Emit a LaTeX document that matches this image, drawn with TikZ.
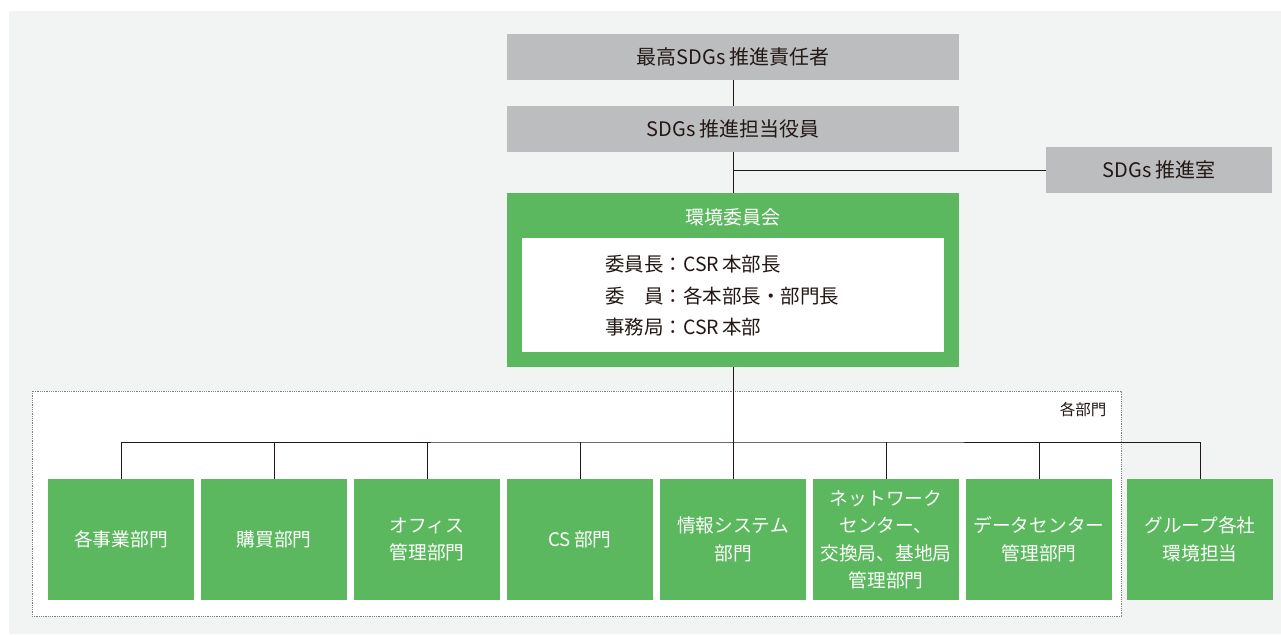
\documentclass[tikz,border=0pt]{standalone}
\usepackage{fontspec}
\setmainfont{Noto Sans CJK JP}
\usepackage{xcolor}
\definecolor{bgGray}{HTML}{F2F3F3}
\definecolor{boxGray}{HTML}{BCBDBF}
\definecolor{envGreen}{HTML}{5BB85E}
\definecolor{inkDark}{HTML}{231815}

\begin{document}
\begin{tikzpicture}[x=1pt,y=-1pt,
                graybox/.style={fill=boxGray, inner sep=0pt, text=inkDark,
                    font=\fontsize{20}{24}\selectfont},
                deptbox/.style={fill=envGreen, minimum width=146pt, minimum height=121pt,
                    inner sep=0pt, text=white, align=center,
                    font=\fontsize{18.7}{27.5}\selectfont},
                link/.style={draw=inkDark, line width=1pt}]
                \useasboundingbox (0,0) rectangle (1281,634);
                \fill[bgGray] (9,11) rectangle (1281,634);
                % dotted frame round the departments
                \filldraw[fill=white, draw=gray, densely dotted, line width=0.8pt] (32,391) rectangle (1121,616);
                \node[anchor=east, text=inkDark, font=\fontsize{15.5}{18}\selectfont] (kakubumon) at (1110,410) {各部門};

                \node[graybox, minimum width=452pt, minimum height=46pt] (top) at (733,57) {最高SDGs\kern4pt 推進責任者};
                \node[graybox, minimum width=452pt, minimum height=46pt] (officer) at (733,129) {SDGs\kern4pt 推進担当役員};
                \node[graybox, minimum width=226pt, minimum height=46pt] (office) at (1159,170) {SDGs\kern4pt 推進室};

                \node[fill=envGreen, minimum width=452pt, minimum height=174pt, inner sep=0pt] (committee) at (733,280) {};
                \node[fill=white, minimum width=422pt, minimum height=114pt, inner sep=0pt] (members) at (733,295) {};
                \node[text=white, font=\fontsize{19}{22}\selectfont] (commtitle) at (733,217) {環境委員会};
                \node[anchor=west, align=left, text=inkDark, inner sep=0pt,
                    font=\fontsize{19.5}{31.5}\selectfont] (roles) at (605,296)
                    {委員長：CSR\kern3pt 本部長\\委　員：各本部長・部門長\\事務局：CSR\kern3pt 本部};

                \node[deptbox] (d1) at (121,539.5) {各事業部門};
                \node[deptbox] (d2) at (274,539.5) {購買部門};
                \node[deptbox] (d3) at (427,539.5) {オフィス\\管理部門};
                \node[deptbox] (d4) at (580,539.5) {CS\kern3pt 部門};
                \node[deptbox] (d5) at (733,539.5) {情報システム\\部門};
                \node[deptbox] (d6) at (886,539.5) {ネットワーク\\センター、\\交換局、基地局\\管理部門};
                \node[deptbox] (d7) at (1039,539.5) {データセンター\\管理部門};
                \node[deptbox] (d8) at (1200,539.5) {グループ各社\\環境担当};

                \coordinate (bus) at (733,442);
                \draw[link] (top.south) -- (officer.north);
                \draw[link] (officer.south) -- (committee.north);
                \draw[link] (office.west) -- (office.west -| officer.south);
                \draw[link] (committee.south) -- (bus);
                \draw[link] (d1.north) |- (bus) -| (d8.north);
                \foreach \i in {2,...,7}
                    \draw[link] (d\i.north) -- (d\i.north |- bus);
            \end{tikzpicture}
\end{document}
